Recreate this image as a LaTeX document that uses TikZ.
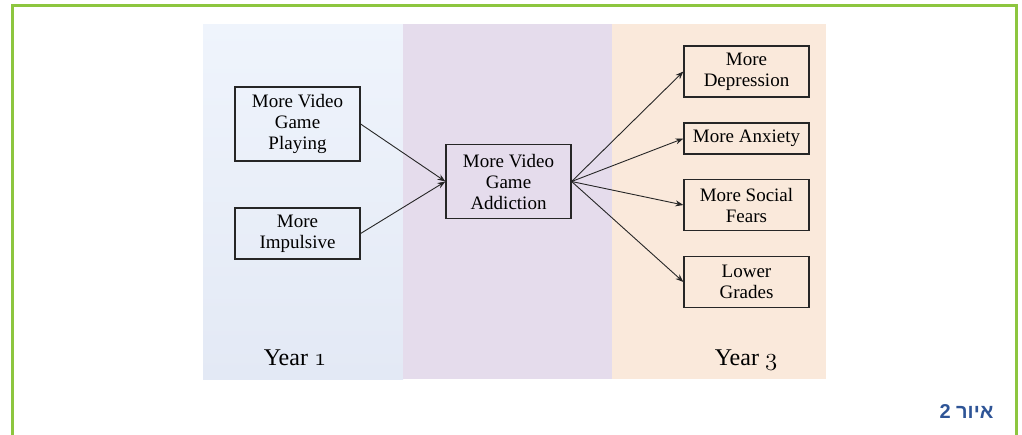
\documentclass[tikz,border=0pt]{standalone}
\usepackage{fontspec}
\setmainfont{Liberation Serif}
\newfontfamily\hebfont[Script=Hebrew]{Liberation Sans}
\TeXXeTstate=1
\usetikzlibrary{arrows.meta}
\newcommand{\onum}[1]{{\fontencoding{OML}\fontfamily{cmm}\fontseries{m}\fontshape{it}\selectfont #1}}
\definecolor{framegreen}{RGB}{141,198,63}
\definecolor{captionblue}{RGB}{46,84,150}
\definecolor{yearonetop}{RGB}{239,244,252}
\definecolor{yearonebot}{RGB}{227,233,245}
\definecolor{yeartwo}{RGB}{229,220,236}
\definecolor{yearthree}{RGB}{250,233,219}
\tikzset{
  effect/.style={draw=black!85, line width=1.2pt, minimum width=125pt, inner xsep=2pt, inner ysep=3pt, align=center, font=\fontsize{19}{21}\selectfont},
  tallbox/.style={minimum height=74pt},
  midbox/.style={minimum height=51pt},
  lowbox/.style={minimum height=31pt},
  link/.style={-{Stealth[length=8pt,width=6pt]}, line width=0.9pt, black!85},
  yearlabel/.style={font=\fontsize{24}{28}\selectfont}
}
\begin{document}
\begin{tikzpicture}[x=1pt, y=-1pt]
  \useasboundingbox (0,0) rectangle (1022,434);
  \draw[framegreen, line width=3pt] (12,450) -- (12,5) -- (1016,5) -- (1016,450);
  \shade[top color=yearonetop, bottom color=yearonebot] (203,24) rectangle (403,379);
  \fill[yeartwo] (403,24) rectangle (612,379);
  \fill[yearthree] (612,24) rectangle (826,379);

  \node[effect, tallbox] (play) at (297.5,124) {More Video\\Game\\Playing};
  \node[effect, midbox] (impulse) at (297.5,233.5) {More\\Impulsive};
  \node[effect, tallbox] (addict) at (508.5,181.5) {More Video\\Game\\Addiction};
  \node[effect, midbox] (depress) at (746.5,71.5) {More\\Depression};
  \node[effect, lowbox] (anxiety) at (746.5,138.5) {More Anxiety};
  \node[effect, midbox] (social) at (746.5,205) {More Social\\Fears};
  \node[effect, midbox] (grades) at (746.5,282) {Lower\\Grades};

  \draw[link] (play.east) -- (addict.west);
  \draw[link] (impulse.east) -- (addict.west);
  \draw[link] (addict.east) -- (depress.west);
  \draw[link] (addict.east) -- (anxiety.west);
  \draw[link] (addict.east) -- (social.west);
  \draw[link] (addict.east) -- (grades.west);

  \node[yearlabel] (yearone) at (295,358) {Year \onum{1}};
  \node[yearlabel] (yearthr) at (746,360) {Year \onum{3}};
  \node[anchor=east, text=captionblue, font=\hebfont\fontsize{20}{24}\selectfont\bfseries] (caption) at (997,412) {\beginR איור 2\endR};
\end{tikzpicture}
\end{document}
